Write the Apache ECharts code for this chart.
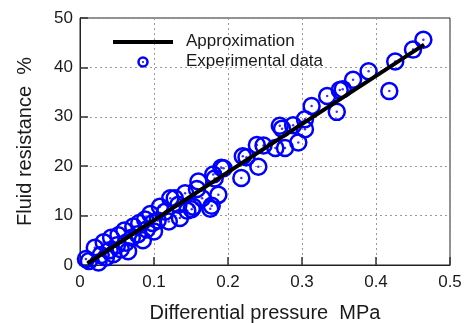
<!DOCTYPE html>
<html>
<head>
<meta charset="utf-8">
<script src="https://cdn.jsdelivr.net/npm/echarts@6/dist/echarts.min.js"></script>
<style>html,body{margin:0;padding:0;background:#fff}#c{width:468px;height:323px}</style>
</head>
<body>
<div id="c"></div>
<script>
// Experimental data: differential pressure (MPa)
var pressure = [
  0.008, 0.012, 0.020, 0.025, 0.028, 0.032, 0.035, 0.040, 0.042, 0.045,
  0.050, 0.052, 0.055, 0.060, 0.062, 0.065, 0.070, 0.072, 0.078, 0.080,
  0.085, 0.088, 0.090, 0.095, 0.098, 0.100,
  0.105, 0.108, 0.115, 0.120, 0.122, 0.128, 0.133, 0.135, 0.142, 0.145,
  0.151, 0.153, 0.158, 0.160, 0.165, 0.176, 0.178, 0.180, 0.182, 0.187,
  0.191, 0.194,
  0.218, 0.220, 0.225, 0.239, 0.241, 0.248, 0.264, 0.270, 0.273, 0.277,
  0.288, 0.295, 0.304, 0.304,
  0.313, 0.334, 0.347, 0.351, 0.355, 0.369, 0.390, 0.418, 0.426, 0.450, 0.464
];
// Experimental data: fluid resistance (%)
var resistance = [
  1.2, 0.8, 3.5, 0.5, 2.0, 4.6, 1.5, 3.0, 5.5, 2.2,
  4.0, 6.0, 3.2, 7.0, 4.5, 2.8, 5.5, 7.8, 6.2, 8.5,
  5.0, 9.2, 7.2, 10.3, 8.5, 6.8,
  9.0, 11.8, 10.8, 8.8, 13.5, 13.5, 12.2, 9.5, 14.5, 11.0,
  11.3, 11.8, 15.4, 16.9, 13.5, 11.4, 12.0, 18.3, 17.5, 14.2,
  19.7, 19.6,
  17.6, 22.0, 21.8, 24.3, 19.9, 24.2, 23.7, 28.2, 27.6, 23.7,
  28.3, 24.8, 29.5, 27.5,
  32.2, 34.2, 31.0, 35.4, 35.6, 37.5, 39.2, 35.2, 41.2, 43.6, 45.6
];
// Approximation line endpoints
var approxX = [0.01, 0.465];
var approxY = [0.3, 44.6];

var xTicks = [0, 0.1, 0.2, 0.3, 0.4, 0.5];
var yTicks = [0, 10, 20, 30, 40, 50];

var pts = pressure.map(function (x, i) { return [x, resistance[i]]; });
var linePts = approxX.map(function (x, i) { return [x, approxY[i]]; });

var FONT = 'Liberation Sans, Arial, sans-serif';
var TXT = '#1a1a1a';

var chart = echarts.init(document.getElementById('c'), null, {renderer: 'canvas'});
chart.setOption({
  animation: false,
  backgroundColor: '#fff',
  grid: {left: 80, right: 18, top: 18, bottom: 58, outerBoundsMode: 'none', containLabel: false,
    show: true, borderColor: '#222', borderWidth: 1, backgroundColor: 'transparent'},
  xAxis: {
    type: 'value', min: xTicks[0], max: xTicks[xTicks.length - 1], interval: 0.1,
    name: 'Differential pressure  MPa', nameLocation: 'middle', nameGap: 38,
    nameTextStyle: {fontFamily: FONT, fontSize: 20, color: TXT},
    axisLine: {show: true, onZero: false, lineStyle: {color: '#222', width: 1}},
    axisTick: {show: true, inside: true, length: 8, lineStyle: {color: '#333', width: 1.5}},
    axisLabel: {fontFamily: FONT, fontSize: 17, color: TXT, margin: 9,
      formatter: function (v) { return String(+v.toFixed(1)); }},
    splitLine: {show: true, lineStyle: {color: '#999', type: [2, 3], width: 1}}
  },
  yAxis: {
    type: 'value', min: yTicks[0], max: yTicks[yTicks.length - 1], interval: 10,
    name: 'Fluid resistance  %', nameLocation: 'middle', nameGap: 45,
    nameTextStyle: {fontFamily: FONT, fontSize: 20, color: TXT},
    axisLine: {show: true, onZero: false, lineStyle: {color: '#222', width: 1}},
    axisTick: {show: true, inside: true, length: 8, lineStyle: {color: '#333', width: 1.5}},
    axisLabel: {fontFamily: FONT, fontSize: 17, color: TXT, margin: 7},
    splitLine: {show: true, lineStyle: {color: '#999', type: [2, 3], width: 1}}
  },
  graphic: [
    {type: 'line', shape: {x1: 113, y1: 42, x2: 173, y2: 42}, style: {stroke: '#000', lineWidth: 4}, z: 100},
    {type: 'circle', shape: {cx: 143, cy: 62, r: 4.5}, style: {fill: 'transparent', stroke: '#0000ff', lineWidth: 2.5}, z: 100},
    {type: 'circle', shape: {cx: 143, cy: 62, r: 1}, style: {fill: '#0000ff'}, z: 100},
    {type: 'text', left: 186, top: 33, style: {text: 'Approximation', font: '17px ' + FONT, fill: TXT}, z: 100},
    {type: 'text', left: 186, top: 53, style: {text: 'Experimental data', font: '17px ' + FONT, fill: TXT}, z: 100}
  ],
  series: [
    {
      type: 'scatter', data: pts, symbol: 'circle', symbolSize: 16,
      itemStyle: {color: 'rgba(255,255,255,0)', borderColor: '#0000ff', borderWidth: 2.5, opacity: 1},
      z: 2
    },
    {
      type: 'scatter', data: pts, symbol: 'circle', symbolSize: 2.5,
      itemStyle: {color: '#0000ff'}, z: 3
    },
    {
      type: 'line', data: linePts, showSymbol: false, symbol: 'none',
      lineStyle: {color: '#000', width: 4}, z: 4
    }
  ]
});
</script>
</body>
</html>
